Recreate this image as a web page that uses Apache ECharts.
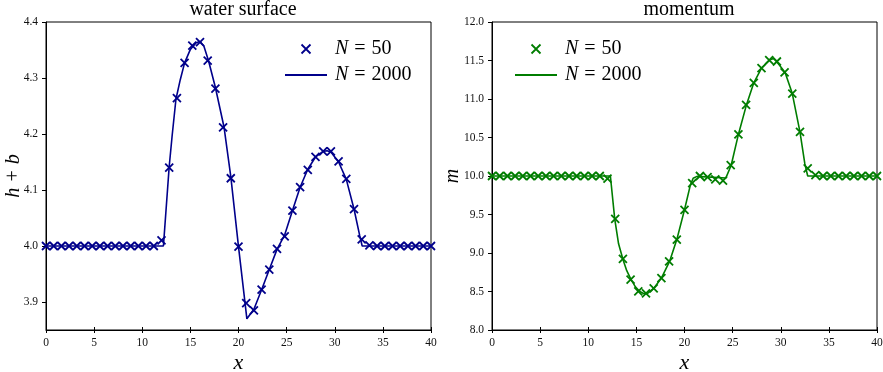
<!DOCTYPE html>
<html>
<head>
<meta charset="utf-8">
<script src="https://cdn.jsdelivr.net/npm/echarts@6/dist/echarts.min.js"></script>
<style>
html, body { margin: 0; padding: 0; background: #fff; }
#chart { width: 883px; height: 372px; }
</style>
</head>
<body>
<div id="chart"></div>
<script>
// coarse grid, N = 50
const x50 = [0, 0.8, 1.6, 2.4, 3.2, 4, 4.8, 5.6, 6.4, 7.2, 8, 8.8, 9.6, 10.4, 11.2,
    12, 12.8, 13.6, 14.4, 15.2, 16, 16.8, 17.6, 18.4, 19.2, 20, 20.8, 21.6, 22.4, 23.2,
    24, 24.8, 25.6, 26.4, 27.2, 28, 28.8, 29.6, 30.4, 31.2, 32, 32.8, 33.6, 34.4, 35.2,
    36, 36.8, 37.6, 38.4, 39.2, 40]
const h50 = [4, 4, 4, 4, 4, 4, 4, 4, 4, 4, 4, 4, 4, 4, 4,
    4.010, 4.140, 4.264, 4.327, 4.358, 4.364, 4.331, 4.281, 4.212, 4.121, 3.999, 3.898, 3.885, 3.922, 3.958,
    3.995, 4.017, 4.063, 4.105, 4.136, 4.159, 4.169, 4.169, 4.151, 4.120, 4.066, 4.012, 4.001, 4, 4,
    4, 4, 4, 4, 4, 4]
const m50 = [10, 10, 10, 10, 10, 10, 10, 10, 10, 10, 10, 10, 10, 10, 10,
    9.965, 9.444, 8.923, 8.654, 8.501, 8.475, 8.541, 8.675, 8.892, 9.174, 9.561, 9.908, 10.0, 9.985, 9.955,
    9.94, 10.14, 10.54, 10.925, 11.21, 11.40, 11.505, 11.487, 11.345, 11.07, 10.572, 10.10, 10.01, 10, 10,
    10, 10, 10, 10, 10, 10]

// fine solution, N = 2000
const xh2000 = [0, 12.2, 12.8, 13.1, 13.5, 13.95, 14.4, 15.0, 15.6, 16.0, 16.4, 16.9, 17.6, 18.5, 19.2,
    20.0, 20.87, 21.6, 22.4, 23.2, 24.0, 24.8, 25.6, 26.4, 27.2, 28.0, 28.8, 29.2, 29.6, 30.4,
    31.2, 32.0, 32.6, 32.85, 40]
const h2000 = [4, 4, 4.142, 4.196, 4.262, 4.297, 4.327, 4.351, 4.363, 4.365, 4.357, 4.330, 4.283, 4.212, 4.124,
    3.999, 3.870, 3.887, 3.922, 3.958, 3.994, 4.020, 4.063, 4.105, 4.137, 4.159, 4.169, 4.170, 4.168, 4.150,
    4.119, 4.066, 4.018, 4, 4]
const xm2000 = [0, 12.3, 12.75, 13.15, 13.6, 14.0, 14.45, 14.9, 15.35, 15.75, 16.1, 16.8, 17.6, 18.45, 19.2,
    20.0, 20.6, 20.9, 21.3, 24.3, 24.85, 25.6, 26.45, 27.2, 28.0, 28.9, 29.25, 29.55, 30.45, 31.2,
    32.0, 32.5, 32.8, 40]
const m2000 = [10, 10, 9.444, 9.12, 8.92, 8.77, 8.654, 8.56, 8.50, 8.475, 8.47, 8.54, 8.675, 8.89, 9.174,
    9.561, 9.878, 9.97, 9.995, 9.975, 10.14, 10.54, 10.93, 11.21, 11.40, 11.51, 11.527, 11.49, 11.345, 11.07,
    10.57, 10.16, 10, 10]

const hTicks = [3.9, 4.0, 4.1, 4.2, 4.3, 4.4]
const mTicks = [8.0, 8.5, 9.0, 9.5, 10.0, 10.5, 11.0, 11.5, 12.0]

const BLUE = "#00008B"
const GREEN = "#007d00"
const SERIF = "Liberation Serif, DejaVu Serif, serif"
const CROSS = "path://M0 0L10 10M10 0L0 10"

var myChart = echarts.init(document.getElementById("chart"))

function xAxes(gridIndex) {
    return [
        {
            gridIndex: gridIndex, type: "value", min: 0, max: 40, interval: 5,
            name: "x", nameLocation: "middle", nameGap: 22, nameMoveOverlap: false,
            nameTextStyle: { fontFamily: SERIF, fontStyle: "italic", fontSize: 22, color: "#000" },
            axisLine: { lineStyle: { color: "#000", width: 1 } },
            axisTick: { length: 3, lineStyle: { color: "#000" } },
            axisLabel: { fontFamily: SERIF, fontSize: 11.5, color: "#111", margin: 7 },
            splitLine: { show: false },
        },
        {
            gridIndex: gridIndex, type: "value", min: 0, max: 40, interval: 5, position: "bottom",
            axisLine: { show: false },
            axisTick: { inside: true, length: 3, lineStyle: { color: "#000" } },
            axisLabel: { show: false },
            splitLine: { show: false },
        },
    ]
}

function yAxis(gridIndex, min, max, ticks, name, gap) {
    return {
        gridIndex: gridIndex, type: "value", min: min, max: max,
        name: name, nameLocation: "middle", nameGap: gap, nameRotate: 90, nameMoveOverlap: false,
        nameTextStyle: { fontFamily: SERIF, fontStyle: "italic", fontSize: 20, color: "#000" },
        axisLine: { show: true, lineStyle: { color: "#000", width: 1 } },
        axisTick: { show: true, length: 4, customValues: ticks, lineStyle: { color: "#000" } },
        axisLabel: {
            fontFamily: SERIF, fontSize: 11.5, color: "#111", margin: 8,
            customValues: ticks, formatter: (v) => v.toFixed(1),
        },
        splitLine: { show: false },
    }
}

function legendText(name) {
    return name.endsWith("2000") ? "{g|}{i|N}{s|}{t|=}{s|}{t|2000}" : "{g|}{i|N}{s|}{t|=}{s|}{t|50}"
}

function legend(left, names) {
    return {
        left: left, top: 34, orient: "vertical", itemGap: 6,
        itemWidth: 42, itemHeight: 9,
        // line entry: hide the dot echarts puts on line icons
        data: [{ name: names[0] }, { name: names[1], itemStyle: { opacity: 0 } }],
        formatter: legendText,
        selectedMode: false,
        itemStyle: { borderWidth: 1.8 },
        textStyle: {
            fontFamily: SERIF, fontSize: 20, color: "#000",
            rich: {
                g: { width: 3 },
                s: { width: 6 },
                i: { fontFamily: SERIF, fontStyle: "italic", fontSize: 20, color: "#000" },
                t: { fontFamily: SERIF, fontSize: 20, color: "#000" },
            },
        },
    }
}

function crossSeries(name, idx, xs, ys, color) {
    return {
        name: name, type: "scatter", xAxisIndex: idx * 2, yAxisIndex: idx,
        symbol: CROSS, symbolSize: 8, symbolKeepAspect: true,
        itemStyle: { color: "rgba(0,0,0,0)", borderColor: color, borderWidth: 1.8, opacity: 1 },
        data: xs.map((x, i) => [x, ys[i]]),
        z: 3,
    }
}

function lineSeries(name, idx, xs, ys, color) {
    return {
        name: name, type: "line", xAxisIndex: idx * 2, yAxisIndex: idx,
        symbol: "none", showSymbol: false,
        lineStyle: { color: color, width: 1.6 },
        itemStyle: { color: color },
        data: xs.map((x, i) => [x, ys[i]]),
        z: 2,
    }
}

myChart.setOption({
    animation: false,
    backgroundColor: "#fff",
    title: [
        { text: "water surface", left: 238, top: -5, textAlign: "center",
          textStyle: { fontFamily: SERIF, fontSize: 20, fontWeight: "normal", color: "#000" } },
        { text: "momentum", left: 684, top: -5, textAlign: "center",
          textStyle: { fontFamily: SERIF, fontSize: 20, fontWeight: "normal", color: "#000" } },
    ],
    grid: [
        { left: 46, right: 452, top: 22, bottom: 42, outerBoundsMode: "none", containLabel: false,
          show: true, borderColor: "#000", borderWidth: 1 },
        { left: 492, right: 6, top: 22, bottom: 42, outerBoundsMode: "none", containLabel: false,
          show: true, borderColor: "#000", borderWidth: 1 },
    ],
    legend: [
        legend(279, ["h50", "h2000"]),
        legend(509, ["m50", "m2000"]),
    ],
    xAxis: [...xAxes(0), ...xAxes(1)],
    yAxis: [
        yAxis(0, 3.85, 4.4, hTicks, "h + b", 22),
        yAxis(1, 8, 12, mTicks, "m", 29),
    ],
    series: [
        lineSeries("h2000", 0, xh2000, h2000, BLUE),
        crossSeries("h50", 0, x50, h50, BLUE),
        lineSeries("m2000", 1, xm2000, m2000, GREEN),
        crossSeries("m50", 1, x50, m50, GREEN),
    ],
})
</script>
</body>
</html>
